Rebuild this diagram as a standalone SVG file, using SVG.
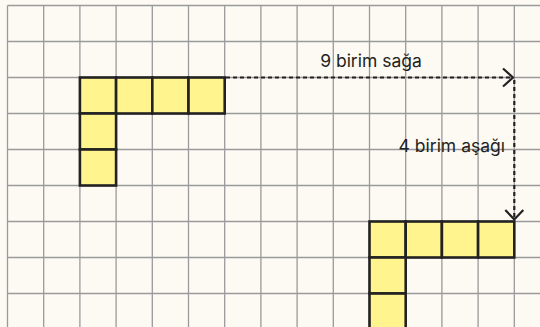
<svg xmlns="http://www.w3.org/2000/svg" width="540" height="327" viewBox="0 0 540 327">
<style>
.grid{stroke:#9a9a9c;stroke-width:1.3;fill:none}
.cell{fill:#fff48e;stroke:#222;stroke-width:2.6}
.conn{stroke:#222;stroke-width:2.2;fill:none;stroke-dasharray:4 3}
.head{stroke:#222;stroke-width:2.2;fill:none}
.lbl{font-family:Inter,"Liberation Sans",sans-serif;font-size:17.5px;fill:#222}
</style>
<rect width="540" height="327" fill="#fcfaf3"/>
<g id="grid" class="grid">
<path d="M7.5 5.5V327M43.7 5.5V327M79.9 5.5V327M116.1 5.5V327M152.3 5.5V327M188.5 5.5V327M224.7 5.5V327M260.9 5.5V327M297.1 5.5V327M333.3 5.5V327M369.5 5.5V327M405.7 5.5V327M441.9 5.5V327M478.1 5.5V327M514.3 5.5V327"/>
<path d="M7.5 5.5H540M7.5 41.5H540M7.5 77.5H540M7.5 113.5H540M7.5 149.5H540M7.5 185.5H540M7.5 221.5H540M7.5 257.5H540M7.5 293.5H540"/>
</g>
<g id="shape1">
<rect class="cell" x="79.9" y="77.5" width="36.2" height="36"/>
<rect class="cell" x="116.1" y="77.5" width="36.2" height="36"/>
<rect class="cell" x="152.3" y="77.5" width="36.2" height="36"/>
<rect class="cell" x="188.5" y="77.5" width="36.2" height="36"/>
<rect class="cell" x="79.9" y="113.5" width="36.2" height="36"/>
<rect class="cell" x="79.9" y="149.5" width="36.2" height="36"/>
</g>
<g id="shape2">
<rect class="cell" x="369.5" y="221.5" width="36.2" height="36"/>
<rect class="cell" x="405.7" y="221.5" width="36.2" height="36"/>
<rect class="cell" x="441.9" y="221.5" width="36.2" height="36"/>
<rect class="cell" x="478.1" y="221.5" width="36.2" height="36"/>
<rect class="cell" x="369.5" y="257.5" width="36.2" height="36"/>
<rect class="cell" x="369.5" y="293.5" width="36.2" height="36"/>
</g>
<g id="connectors">
<path class="conn" d="M226 77.5H513"/>
<path class="head" d="M503 68.5L513 77.5L503 86.5"/>
<path class="conn" d="M514.3 80V219.5"/>
<path class="head" d="M505.3 210L514.3 219.5L523.3 210"/>
</g>
<g id="labels">
<text class="lbl" x="371" y="66.5" text-anchor="middle">9 birim sağa</text>
<text class="lbl" x="505" y="151.5" text-anchor="end">4 birim aşağı</text>
</g>
</svg>
